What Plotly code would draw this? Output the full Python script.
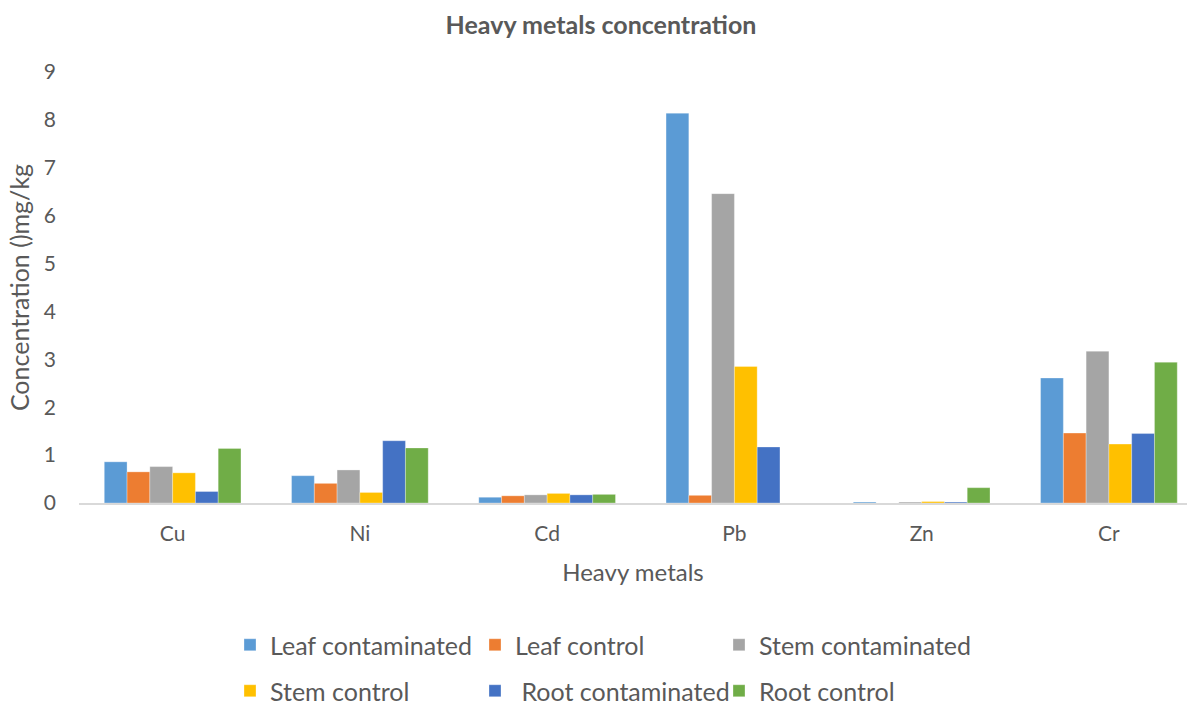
import plotly.graph_objects as go

metals = ["Cu", "Ni", "Cd", "Pb", "Zn", "Cr"]

leaf_contaminated = [0.86, 0.57, 0.12, 8.14, 0.02, 2.61]
leaf_control = [0.65, 0.41, 0.15, 0.16, 0.0, 1.46]
stem_contaminated = [0.76, 0.69, 0.17, 6.46, 0.02, 3.17]
stem_control = [0.63, 0.22, 0.20, 2.85, 0.03, 1.23]
root_contaminated = [0.24, 1.30, 0.17, 1.17, 0.02, 1.45]
root_control = [1.14, 1.15, 0.18, 0.0, 0.32, 2.94]

series_names = ["Leaf contaminated", "Leaf control", "Stem contaminated",
                "Stem control", " Root contaminated", "Root control"]
series_values = [leaf_contaminated, leaf_control, stem_contaminated,
                 stem_control, root_contaminated, root_control]
colors = ["#5B9BD5", "#ED7D31", "#A5A5A5", "#FFC000", "#4472C4", "#70AD47"]

FONT = "Lato, Carlito, Calibri, sans-serif"
TXT = "#595959"

W, H = 1187, 705
L, R, T, B = 79, 0, 72, 202
plot_w = W - L - R
plot_h = H - T - B

def ypaper(ypx):
    return (H - B - ypx) / plot_h

def xpaper(xpx):
    return (xpx - L) / plot_w

# legend slot positions (px) for each series: 3 per row, two rows
slot_x = [230, 475, 719, 230, 475, 719]
slot_y = [645, 645, 645, 691, 691, 691]
legend_ids = ["legend"] + [f"legend{i}" for i in range(2, 7)]

fig = go.Figure()
for i, (name, vals, col) in enumerate(zip(series_names, series_values, colors)):
    fig.add_trace(go.Bar(
        x=metals, y=vals, name=name, showlegend=True,
        marker=dict(color=col, line=dict(color="rgba(255,255,255,0.6)", width=0.5)),
        legend=legend_ids[i],
    ))

legend_layout = {}
for i, lid in enumerate(legend_ids):
    legend_layout[lid] = dict(
        orientation="h", xanchor="left", yanchor="middle", visible=True,
        x=xpaper(slot_x[i]), y=ypaper(slot_y[i]),
        font=dict(family=FONT, size=25, color=TXT),
        bgcolor="rgba(0,0,0,0)", itemclick=False,
    )

fig.update_layout(
    width=W, height=H, showlegend=True,
    margin=dict(l=L, r=R, t=T, b=B, autoexpand=False),
    paper_bgcolor="white", plot_bgcolor="white",
    barmode="group", bargap=0.27, bargroupgap=0,
    title=dict(text="<b>Heavy metals concentration</b>", x=601 / W, xref="container",
               xanchor="center", y=1 - 25 / H, yref="container", yanchor="middle",
               font=dict(family=FONT, size=25, color=TXT)),
    xaxis=dict(
        range=[-0.5, 5.417], showgrid=False, zeroline=False,
        showline=True, linecolor="#D9D9D9", linewidth=1.5,
        ticks="", ticklabelstandoff=11,
        tickfont=dict(family=FONT, size=21, color=TXT),
        title=dict(text="Heavy metals", standoff=20,
                   font=dict(family=FONT, size=24, color=TXT)),
    ),
    yaxis=dict(
        range=[0, 9], dtick=1, showgrid=False, zeroline=False, showline=False,
        ticks="", ticklabelstandoff=22,
        tickfont=dict(family=FONT, size=21, color=TXT),
        title=dict(text="Concentration ()mg/kg", standoff=7,
                   font=dict(family=FONT, size=25, color=TXT)),
    ),
    **legend_layout,
)

fig.write_html("out.html", config={"displayModeBar": False},
               post_script="document.body.style.margin='0';document.body.style.overflow='hidden';")
